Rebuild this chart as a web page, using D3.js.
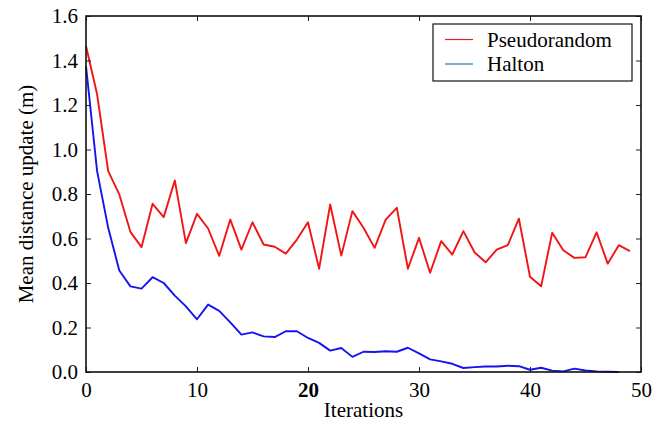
<!DOCTYPE html>
<html>
<head>
<meta charset="utf-8">
<script src="https://cdn.jsdelivr.net/npm/d3@7"></script>
<style>
  body { margin: 0; background: #fff; }
</style>
</head>
<body>
<div id="chart"></div>
<script>
var width = 662;
var height = 424;
var margin = {left: 86, right: 21, top: 16, bottom: 52};
var serif = "'Liberation Serif', 'Times New Roman', Times, serif";

// data
var pseudorandom = [1.465, 1.248, 0.903, 0.798, 0.630, 0.561, 0.756, 0.696, 0.861, 0.579,
    0.711, 0.645, 0.522, 0.685, 0.550, 0.673, 0.573, 0.563, 0.532, 0.595,
    0.673, 0.464, 0.753, 0.523, 0.723, 0.648, 0.558, 0.685, 0.738, 0.464,
    0.603, 0.446, 0.588, 0.528, 0.633, 0.538, 0.493, 0.550, 0.570, 0.689,
    0.428, 0.385, 0.626, 0.547, 0.513, 0.516, 0.628, 0.487, 0.570, 0.543];
var halton = [1.375, 0.903, 0.648, 0.456, 0.385, 0.375, 0.426, 0.400, 0.343, 0.295,
    0.237, 0.303, 0.275, 0.223, 0.168, 0.178, 0.160, 0.157, 0.183, 0.183,
    0.153, 0.131, 0.096, 0.108, 0.068, 0.091, 0.090, 0.093, 0.091, 0.109,
    0.084, 0.057, 0.048, 0.037, 0.018, 0.022, 0.025, 0.025, 0.028, 0.026,
    0.010, 0.019, 0.006, 0.003, 0.015, 0.007, 0.003, 0.001, 0.000];
var seriesNames = ["Pseudorandom", "Halton"];
var lineColors = ["#f21414", "#1414ee"];
var legendColors = ["#d62728", "#1f77b4"];
var xTicks = [0, 10, 20, 30, 40, 50];
var yTicks = [0.0, 0.2, 0.4, 0.6, 0.8, 1.0, 1.2, 1.4, 1.6];

var svg = d3.select("#chart")
    .append("svg")
    .attr("width", width)
    .attr("height", height)
    .attr("font-family", serif);

svg.append("rect").attr("width", width).attr("height", height).attr("fill", "#fff");

var xScale = d3.scaleLinear().domain([0, 50]).range([margin.left, width - margin.right]);
var yScale = d3.scaleLinear().domain([0, 1.6]).range([height - margin.bottom, margin.top]);

var line = d3.line()
    .x(function (d, i) { return xScale(i); })
    .y(function (d) { return yScale(d); });

var plot = svg.append("g");

[pseudorandom, halton].forEach(function (s, k) {
    plot.append("path")
        .datum(s)
        .attr("fill", "none")
        .attr("stroke", lineColors[k])
        .attr("stroke-width", 1.9)
        .attr("stroke-linejoin", "round")
        .attr("d", line);
});

// axes: ticks pointing inward on all four sides
var bottomAxis = d3.axisBottom(xScale).tickValues(xTicks).tickSizeInner(-5).tickSizeOuter(0).tickPadding(10)
    .tickFormat(d3.format("d"));
var topAxis = d3.axisTop(xScale).tickValues(xTicks).tickSizeInner(-5).tickSizeOuter(0).tickFormat("");
var leftAxis = d3.axisLeft(yScale).tickValues(yTicks).tickSizeInner(-5).tickSizeOuter(0).tickPadding(8)
    .tickFormat(d3.format(".1f"));
var rightAxis = d3.axisRight(yScale).tickValues(yTicks).tickSizeInner(-5).tickSizeOuter(0).tickFormat("");

var gb = svg.append("g").attr("transform", "translate(0," + (height - margin.bottom) + ")").call(bottomAxis);
var gt = svg.append("g").attr("transform", "translate(0," + margin.top + ")").call(topAxis);
var gl = svg.append("g").attr("transform", "translate(" + margin.left + ",0)").call(leftAxis);
var gr = svg.append("g").attr("transform", "translate(" + (width - margin.right) + ",0)").call(rightAxis);

[gb, gt, gl, gr].forEach(function (g) {
    g.attr("font-family", serif).attr("font-size", 21);
    g.selectAll(".domain").remove();
    g.selectAll(".tick line").attr("stroke", "#222").attr("stroke-width", 1);
    g.selectAll("text").attr("fill", "#000");
});
gb.selectAll("text").attr("dy", "0.71em")
    .attr("font-weight", function (d) { return d === 20 ? "bold" : null; });

// frame
svg.append("rect")
    .attr("x", margin.left)
    .attr("y", margin.top)
    .attr("width", width - margin.left - margin.right)
    .attr("height", height - margin.top - margin.bottom)
    .attr("fill", "none")
    .attr("stroke", "#111")
    .attr("stroke-width", 1.6);

// axis labels
svg.append("text")
    .attr("x", (margin.left + width - margin.right) / 2)
    .attr("y", 417)
    .attr("text-anchor", "middle")
    .attr("font-size", 21)
    .text("Iterations");

svg.append("text")
    .attr("transform", "translate(33," + ((margin.top + height - margin.bottom) / 2) + ") rotate(-90)")
    .attr("text-anchor", "middle")
    .attr("font-size", 21)
    .text("Mean distance update (m)");

// legend
var legend = svg.append("g").attr("transform", "translate(433,24)");
legend.append("rect")
    .attr("width", 199)
    .attr("height", 57)
    .attr("fill", "#fff")
    .attr("stroke", "#111")
    .attr("stroke-width", 1.2);

seriesNames.forEach(function (name, k) {
    var y = 15.5 + k * 24.5;
    legend.append("line")
        .attr("x1", 12).attr("x2", 40)
        .attr("y1", y).attr("y2", y)
        .attr("stroke", legendColors[k])
        .attr("stroke-width", 1.2);
    legend.append("text")
        .attr("x", 54)
        .attr("y", y)
        .attr("dy", "0.35em")
        .attr("font-size", 21)
        .text(name);
});
</script>
</body>
</html>
